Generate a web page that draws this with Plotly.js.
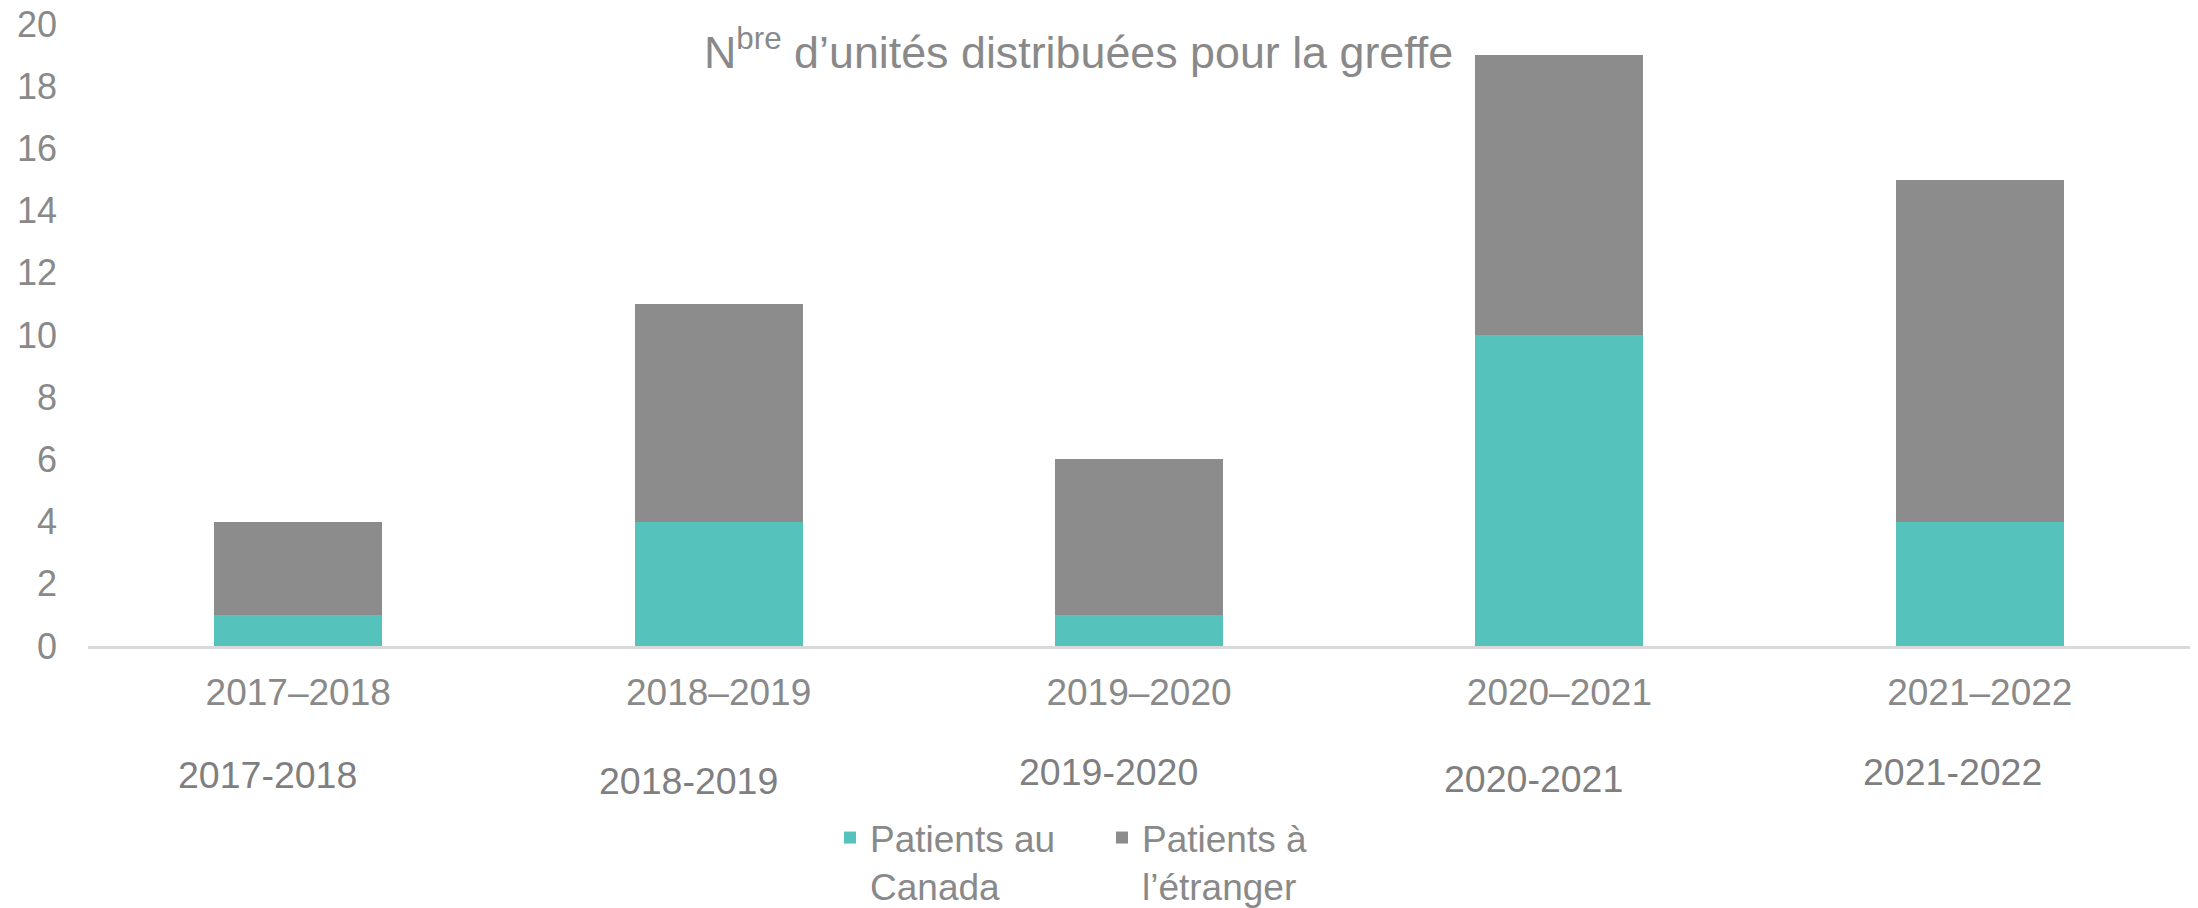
<!DOCTYPE html>
<html><head><meta charset="utf-8">
<script src="https://cdn.plot.ly/plotly-3.0.1.min.js"></script>
<style>html,body{margin:0;padding:0;background:#fff}#chart{width:2198px;height:908px}</style>
</head><body><div id="chart"></div>
<script>
// ---- data ----
const categories = ['2017–2018', '2018–2019', '2019–2020', '2020–2021', '2021–2022'];
const patientsCanada = [1, 4, 1, 10, 4];
const patientsEtranger = [3, 7, 5, 9, 11];
const seriesNames = ['Patients au<br>Canada', 'Patients à<br>l’étranger'];
const secondaryLabels = ['2017-2018', '2018-2019', '2019-2020', '2020-2021', '2021-2022'];
const yTickValues = [0, 2, 4, 6, 8, 10, 12, 14, 16, 18, 20];
const titleText = 'N<sup>bre</sup> d’unités distribuées pour la greffe';

// ---- layout config ----
const W = 2198, H = 908;
const M = {l: 88, r: 8, t: 24, b: 262};
const FONT = '"Liberation Sans", Arial, sans-serif';
const GREY_TXT = '#898989';
const secondaryShift = [-31, -30, -31, -26, -27];   // px offsets from category centre
const secondaryY = [775, 781, 772, 779, 772];        // px from top of page
const plotH = H - M.t - M.b;

const traces = [
  {type: 'bar', name: seriesNames[0], x: categories, y: patientsCanada,
   marker: {color: '#55C3BC'}, hoverinfo: 'x+y+name'},
  {type: 'bar', name: seriesNames[1], x: categories, y: patientsEtranger,
   marker: {color: '#8C8C8C'}, hoverinfo: 'x+y+name'}
];

const annotations = secondaryLabels.map((t, i) => ({
  text: t, xref: 'x', x: categories[i], xshift: secondaryShift[i],
  yref: 'paper', y: (H - M.b - secondaryY[i]) / plotH, yanchor: 'middle', xanchor: 'center',
  showarrow: false, font: {family: FONT, size: 37.5, color: '#7F7F7F'}
}));

const layout = {
  width: W, height: H,
  margin: M,
  paper_bgcolor: '#fff', plot_bgcolor: '#fff',
  font: {family: FONT, size: 37, color: GREY_TXT},
  barmode: 'stack', bargap: 0.6,
  title: {text: titleText, font: {family: FONT, size: 44.8, color: GREY_TXT},
          xref: 'container', x: 704 / W, xanchor: 'left',
          yref: 'container', y: 1 - 52 / H, yanchor: 'middle'},
  xaxis: {type: 'category', showgrid: false, zeroline: false, showline: true,
          linecolor: '#D9D9D9', linewidth: 2.5, ticks: '', ticklabelstandoff: 12,
          tickfont: {family: FONT, size: 37, color: GREY_TXT}, fixedrange: true},
  yaxis: {range: [0, 20], tickvals: yTickValues, showgrid: false, zeroline: false,
          showline: false, ticks: '', ticklabelstandoff: 30,
          tickfont: {family: FONT, size: 36, color: GREY_TXT}, fixedrange: true},
  showlegend: true,
  legend: {orientation: 'h', xref: 'container', x: 830 / W, xanchor: 'left',
           yref: 'container', y: 1 - 807 / H, yanchor: 'top', valign: 'top',
           itemwidth: 30, entrywidth: 227, entrywidthmode: 'pixels', traceorder: 'normal',
           font: {family: FONT, size: 37, color: GREY_TXT}, bgcolor: 'rgba(0,0,0,0)'},
  annotations: annotations
};

Plotly.newPlot('chart', traces, layout, {displayModeBar: false, staticPlot: true});
</script>
</body></html>
